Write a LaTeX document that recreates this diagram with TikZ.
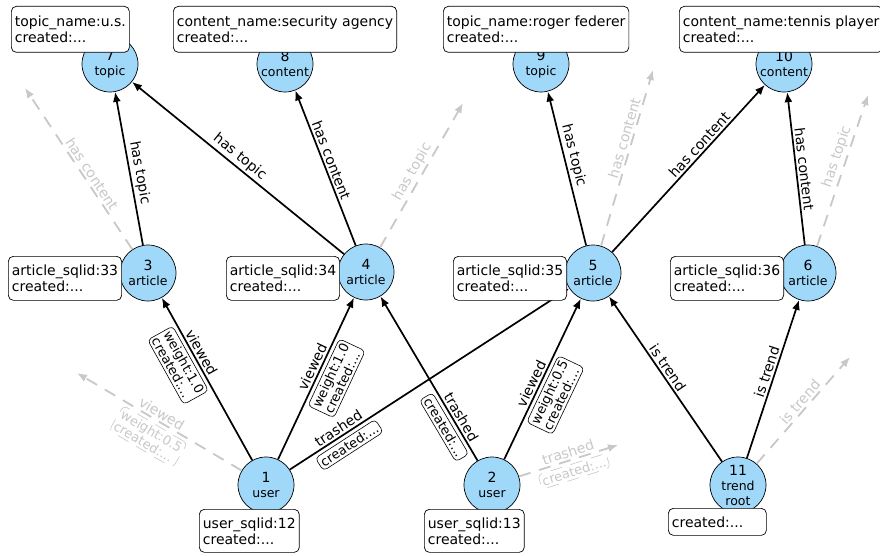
\documentclass[tikz,border=0pt]{standalone}
\usepackage{fontspec}
\setmainfont{DejaVu Sans}
\usetikzlibrary{arrows.meta}
\definecolor{nodeblue}{RGB}{160,216,250}
\definecolor{ghost}{RGB}{200,200,200}
\begin{document}
\begin{tikzpicture}[x=1pt,y=-1pt,
  ent/.style={circle,draw=black,line width=0.7pt,fill=nodeblue,minimum size=56pt,inner sep=0pt,align=center,font=\fontsize{12.5}{15}\selectfont},
  infobox/.style={draw=black,line width=0.7pt,fill=white,rounded corners=5pt,align=left,anchor=north west,inner xsep=3.5pt,inner ysep=2pt,font=\fontsize{14}{16}\selectfont},
  rel/.style={line width=1.7pt,draw=black,-{Latex[length=10pt,width=8pt]}},
  ghostrel/.style={line width=1.8pt,draw=ghost,dash pattern=on 12pt off 9pt,-{Latex[length=10pt,width=8pt]}},
  elabel/.style={sloped,above=1pt,inner sep=1pt,font=\fontsize{14}{16}\selectfont},
  ebox/.style={sloped,below=4pt,draw=black,rounded corners=4pt,line width=0.6pt,fill=white,inner sep=2.5pt,align=left,font=\fontsize{13}{13.5}\selectfont},
  glabel/.style={elabel,text=ghost},
  gbox/.style={ebox,draw=ghost,text=ghost},
]
\newcommand{\nnum}[1]{{\fontsize{14}{15}\selectfont #1}}
\fill[white] (0,0) rectangle (880,556);
\useasboundingbox (0,0) rectangle (880,556);

% entity nodes
\node[ent] (n7) at (110,64) {\nnum{7}\\topic};
\node[ent] (n8) at (285,64) {\nnum{8}\\content};
\node[ent] (n9) at (541,64) {\nnum{9}\\topic};
\node[ent] (n10) at (784,64) {\nnum{10}\\content};
\node[ent] (n3) at (148,273) {\nnum{3}\\article};
\node[ent] (n4) at (366,272) {\nnum{4}\\article};
\node[ent] (n5) at (593,273) {\nnum{5}\\article};
\node[ent] (n6) at (808,273) {\nnum{6}\\article};
\node[ent] (n1) at (266,485) {\nnum{1}\\user};
\node[ent] (n2) at (492,485) {\nnum{2}\\user};
\node[ent] (n11) at (738,485) {\nnum{11}\\trend\\root};

% ghost targets
\coordinate (g3) at (25,88);
\coordinate (g4) at (463,103);
\coordinate (g5) at (653,70);
\coordinate (g6) at (868,95);
\coordinate (g1) at (77,373);
\coordinate (g2) at (618,445);
\coordinate (g11) at (850,357);

% ghost edges
\draw[ghostrel] (n3) -- (g3) node[glabel,pos=0.44]{has content};
\draw[ghostrel] (n4) -- (g4) node[glabel,pos=0.49]{has topic};
\draw[ghostrel] (n5) -- (g5) node[glabel,pos=0.60]{has content};
\draw[ghostrel] (n6) -- (g6) node[glabel,pos=0.57]{has topic};
\draw[ghostrel] (n1) -- (g1) node[glabel,pos=0.51]{viewed} node[gbox,pos=0.51]{weight:0.5\\created:...};
\draw[ghostrel] (n2) -- (g2) node[glabel,pos=0.52]{trashed} node[gbox,pos=0.52]{created:...};
\draw[ghostrel] (n11) -- (g11) node[glabel,pos=0.53]{is trend};

% solid edges
\draw[rel] (n3) -- (n7) node[elabel,pos=0.46]{has topic};
\draw[rel] (n4) -- (n7) node[elabel,pos=0.52]{has topic};
\draw[rel] (n4) -- (n8) node[elabel,pos=0.53]{has content};
\draw[rel] (n5) -- (n9) node[elabel,pos=0.57]{has topic};
\draw[rel] (n5) -- (n10) node[elabel,pos=0.61]{has content};
\draw[rel] (n6) -- (n10) node[elabel,pos=0.49]{has content};
\draw[rel] (n1) -- (n3) node[elabel,pos=0.64]{viewed} node[ebox,pos=0.64]{weight:1.0\\created:...};
\draw[rel] (n1) -- (n4) node[elabel,pos=0.55]{viewed} node[ebox,pos=0.55]{weight:1.0\\created:...};
\draw[rel] (n1) -- (n5) node[elabel,pos=0.19]{trashed} node[ebox,pos=0.19]{created:...};
\draw[rel] (n2) -- (n4) node[elabel,pos=0.24]{trashed} node[ebox,pos=0.24]{created:...};
\draw[rel] (n2) -- (n5) node[elabel,pos=0.45]{viewed} node[ebox,pos=0.45]{weight:0.5\\created:...};
\draw[rel] (n11) -- (n5) node[elabel,pos=0.54]{is trend};
\draw[rel] (n11) -- (n6) node[elabel,pos=0.53]{is trend};

% property boxes
\node[infobox,minimum height=46pt] (b7) at (11,6) {topic\_name:u.s.\\created:...};
\node[infobox,minimum height=46pt] (b8) at (173,6) {content\_name:security agency\\created:...};
\node[infobox,minimum height=46pt] (b9) at (443,6) {topic\_name:roger federer\\created:...};
\node[infobox,minimum height=46pt] (b10) at (679,6) {content\_name:tennis player\\created:...};
\node[infobox,minimum height=44pt] (b3) at (8,256) {article\_sqlid:33\\created:...};
\node[infobox,minimum height=44pt] (b4) at (226,256) {article\_sqlid:34\\created:...};
\node[infobox,minimum height=44pt] (b5) at (453,256) {article\_sqlid:35\\created:...};
\node[infobox,minimum height=44pt] (b6) at (670,256) {article\_sqlid:36\\created:...};
\node[infobox,minimum height=43pt] (b1) at (199,509) {user\_sqlid:12\\created:...};
\node[infobox,minimum height=43pt] (b2) at (424,509) {user\_sqlid:13\\created:...};
\node[infobox,minimum height=27pt,text width=91pt] (b11) at (668,508) {created:...};
\end{tikzpicture}
\end{document}
